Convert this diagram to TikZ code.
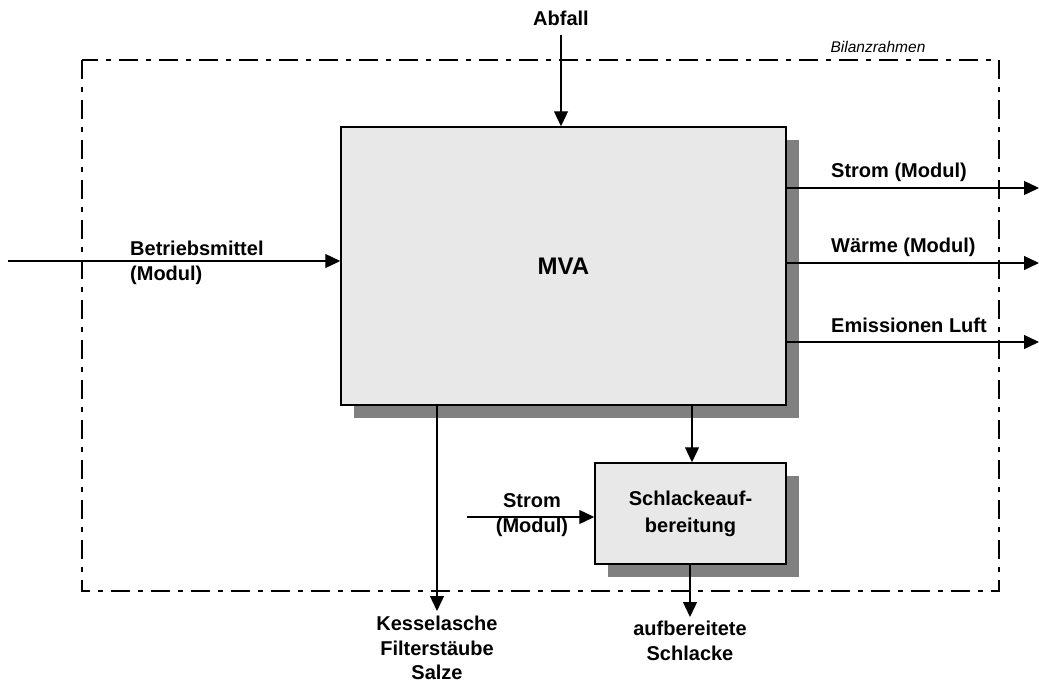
\documentclass[tikz,border=0pt]{standalone}
\usepackage{fontspec}
\setmainfont{Liberation Sans}
\usepackage{tikz}
\usetikzlibrary{arrows.meta,positioning,calc,shadows}

\definecolor{boxfill}{HTML}{E8E8E8}
\definecolor{shadowgray}{HTML}{808080}

\tikzset{
  process/.style={draw=black, line width=1.5pt, fill=boxfill,
    drop shadow={shadow xshift=13pt, shadow yshift=-13pt, fill=shadowgray, opacity=1},
    align=center, font=\bfseries\fontsize{20}{27}\selectfont},
  flow/.style={line width=1.3pt, -{Triangle[length=15pt,width=14pt]}},
  lbl/.style={inner sep=0pt, align=center, font=\bfseries\fontsize{20}{25}\selectfont},
  frame/.style={line width=2.2pt, dash pattern=on 19pt off 8pt on 5pt off 8pt}
}

\begin{document}
\begin{tikzpicture}[x=1pt,y=-1pt]
\useasboundingbox (0,0) rectangle (1039,685);

% Bilanzrahmen
\draw[frame] (82,60) rectangle (999,591);
\node[inner sep=0pt, font=\itshape\fontsize{15.5}{18}\selectfont] (rahmen) at (878,47) {Bilanzrahmen};

% Prozesse
\node[process, minimum width=445pt, minimum height=278pt,
      font=\bfseries\fontsize{24}{28}\selectfont] (mva) at (563.5,266) {\raisebox{-4pt}{MVA}};
\node[process, minimum width=191pt, minimum height=101pt] (schlacke) at (690.5,513.5)
  {Schlackeauf-\\bereitung};

% Input
\node[lbl] (abfall) at (561,18) {Abfall};
\draw[flow] (abfall.south |- 0,35) -- (mva.north -| abfall.south);

\coordinate (bmstart) at (8,261);
\node[lbl, anchor=west, align=left] (betrieb) at (130,263) {Betriebsmittel\\(Modul)};
\draw[flow] (bmstart) -- (mva.west |- bmstart);

\coordinate (stromin) at (467,517);
\node[lbl] (stromlbl) at (532,515) {Strom\\(Modul)};
\draw[flow] (stromin) -- (schlacke.west |- stromin);

% Output rechts
\coordinate (stromout) at (1039,188);
\coordinate (waermeout) at (1039,263);
\coordinate (luftout) at (1039,342);
\node[lbl, anchor=west] (strom) at (831,172) {Strom (Modul)};
\node[lbl, anchor=west] (waerme) at (831,247) {Wärme (Modul)};
\node[lbl, anchor=west] (luft) at (831,325) {Emissionen Luft};
\draw[flow] (mva.east |- stromout) -- (stromout);
\draw[flow] (mva.east |- waermeout) -- (waermeout);
\draw[flow] (mva.east |- luftout) -- (luftout);

% Output unten
\node[lbl, font=\bfseries\fontsize{20}{24.5}\selectfont] (asche) at (437,648) {Kesselasche\\Filterstäube\\Salze};
\draw[flow] (mva.south -| asche.north) -- (asche.north |- 0,611);

\draw[flow] (mva.south -| 692,0) -- (schlacke.north -| 692,0);

\node[lbl] (aufber) at (690,640.5) {aufbereitete\\Schlacke};
\draw[flow] (schlacke.south -| aufber.north) -- (aufber.north |- 0,617);
\end{tikzpicture}
\end{document}
